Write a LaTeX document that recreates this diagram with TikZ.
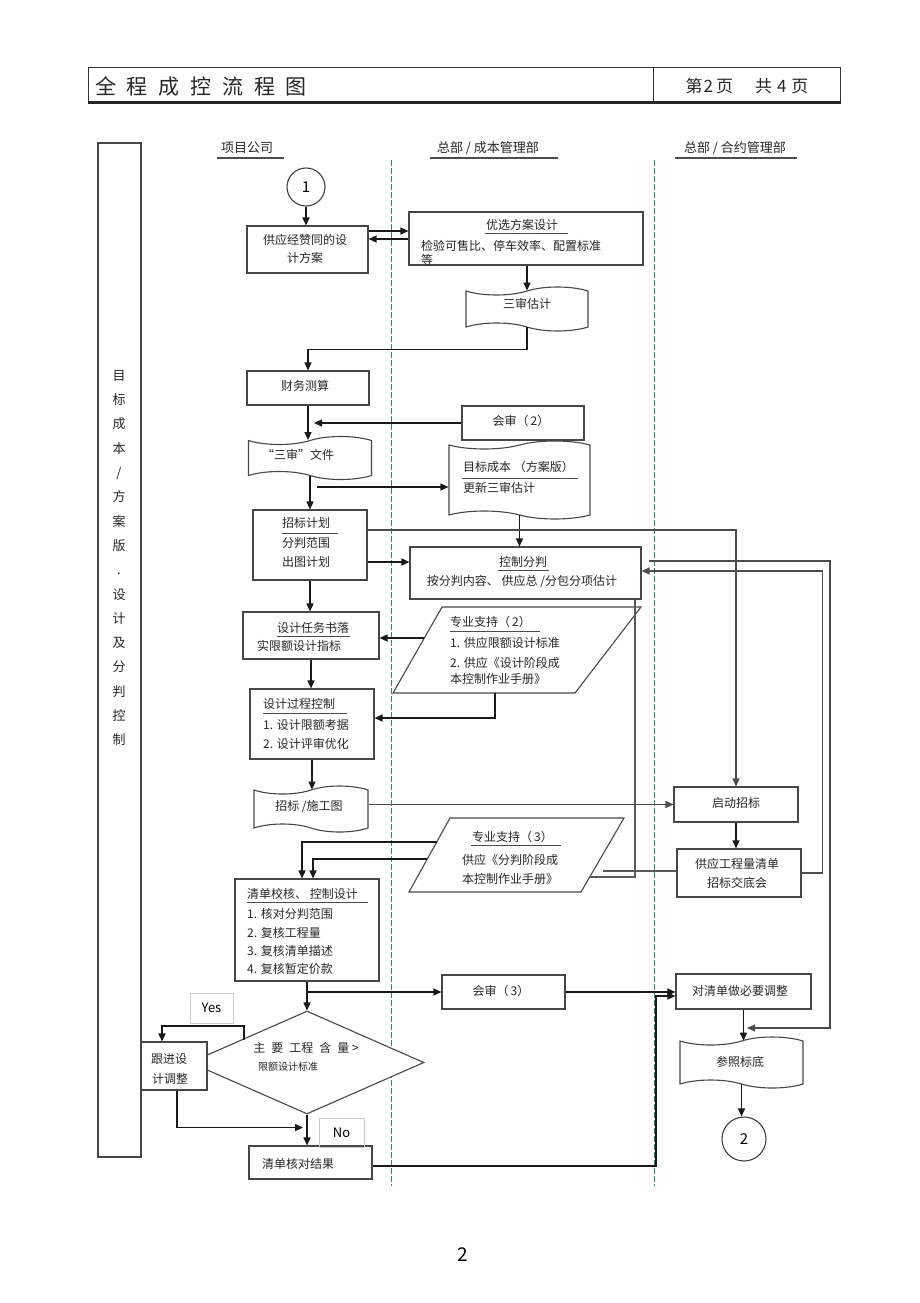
\documentclass[tikz,border=0pt]{standalone}
\usepackage{fontspec}
\setmainfont{Noto Sans CJK SC}
\usetikzlibrary{arrows.meta,shapes.symbols,shapes.geometric,calc}
\begin{document}
\begin{tikzpicture}[x=1pt,y=-1pt,
  box/.style={draw=black!72,line width=1.1pt,fill=white,inner sep=0pt},
  tp/.style={tape,draw=black!72,line width=1.1pt,fill=white,inner sep=0pt,tape bend top=in and out,tape bend bottom=out and in,tape bend height=8pt},
  t/.style={font=\fontsize{12}{18}\selectfont,text=black!85,inner sep=0pt},
  tw/.style={t,anchor=west},
  ul/.style={draw=black!70,line width=1pt},
  arr/.style={draw=black!90,line width=1.5pt,-{Triangle[length=8pt,width=7pt]}},
  garr/.style={draw=black!70,line width=1.2pt,-{Triangle[length=8pt,width=7pt]}},
  gln/.style={draw=black!65,line width=1.1pt},
  lane/.style={draw={rgb,255:red,40;green,140;blue,125},line width=0.9pt,dash pattern=on 6pt off 2pt},
  lbl/.style={draw=black!20,line width=0.6pt,inner sep=0pt,font=\fontsize{13}{15}\selectfont}
]
\useasboundingbox (0,0) rectangle (920,1303);
\fill[white] (0,0) rectangle (920,1303);

% header
\node[draw=black!80,line width=1pt,minimum width=752,minimum height=34,inner sep=0pt] (hdr) at (464,85) {};
\draw[black!85,line width=2.6pt] (hdr.south west) -- (hdr.south east);
\draw[black!80,line width=1pt] (653,68) -- (653,102);
\node[anchor=west,inner sep=0pt,font=\fontsize{21}{24}\selectfont,text=black!85] (title) at (95,86)
  {全\hspace{10.8pt}程\hspace{10.8pt}成\hspace{10.8pt}控\hspace{10.8pt}流\hspace{10.8pt}程\hspace{10.8pt}图};
\node[inner sep=0pt,font=\fontsize{17}{20}\selectfont,text=black!85] (pg) at (747,86)
  {第\hspace{1pt}2\hspace{3pt}页\hspace{22pt}共\hspace{5pt}4\hspace{5pt}页};

% side box
\node[box,minimum width=43,minimum height=1014] (side) at (119.5,650) {};
\node[inner sep=0pt,align=center,font=\fontsize{13}{24.3}\selectfont,text=black!85] (sidet) at (119,558)
  {目\\标\\成\\本\\/\\方\\案\\版\\.\\设\\计\\及\\分\\判\\控\\制};

% column headers
\node[inner sep=0pt,font=\fontsize{13}{15}\selectfont,text=black!85] (h1) at (247,148) {项目公司};
\draw[draw=black!70,line width=1.6pt] (217,158) -- (284,158);
\node[inner sep=0pt,font=\fontsize{13}{15}\selectfont,text=black!85] (h2) at (488,148) {总部 / 成本管理部};
\draw[draw=black!70,line width=1.6pt] (430,158) -- (558,158);
\node[inner sep=0pt,font=\fontsize{13}{15}\selectfont,text=black!85] (h3) at (735,148) {总部 / 合约管理部};
\draw[draw=black!70,line width=1.6pt] (675,158) -- (797,158);

% lanes
\draw[lane] (391,160) -- (391,1186);
\draw[lane] (654,160) -- (654,1186);

% circle 1 and first row
\node[circle,draw=black!75,line width=1.1pt,minimum size=38,inner sep=0pt,font=\fontsize{15}{17}\selectfont] (c1) at (306,187) {1};
\node[box,minimum width=121,minimum height=47] (b1) at (307.5,249.5) {};
\node[t,align=center] (b1t) at (305,249) {供应经赞同的设\\计方案};
\node[box,minimum width=234,minimum height=53] (b2) at (526,238.5) {};
\node[t] (b2h) at (522,225) {优选方案设计};
\draw[ul] (485,233) -- (568,233);
\node[tw] (b2a) at (421,246) {检验可售比、停车效率、配置标准};
\node[tw] (b2b) at (421,260) {等};
\draw[arr] (c1.south) -- (c1.south |- b1.north);
\draw[arr] (b1.east |- 0,231) -- (b2.west |- 0,231);
\draw[arr] (b2.west |- 0,239) -- (b1.east |- 0,239);

% tape 1
\node[tp,minimum width=122,minimum height=44] (tp1) at (527,309) {};
\node[t] (tp1t) at (527,304) {三审估计};
\draw[arr] (tp1.north |- b2.south) -- (tp1.north);

% finance
\node[box,minimum width=122,minimum height=34] (b3) at (308,388) {};
\node[t] (b3t) at (305,386) {财务测算};
\draw[arr] (tp1.south) -- ++(0,22) -| (b3.north);

% target cost tape (drawn before the review box so the box stays on top)
\node[tp,minimum width=141,minimum height=78] (tp3) at (519.5,480) {};
\node[tw] (tp3a) at (463,467) {目标成本 （方案版）};
\draw[ul] (462,478) -- (578,478);
\node[tw] (tp3b) at (463,488) {更新三审估计};

\node[box,minimum width=122,minimum height=34] (b4) at (523,423) {};
\node[t] (b4t) at (521,421) {会审（\,2）};

\node[tp,minimum width=123,minimum height=43] (tp2) at (310,458) {};
\node[t] (tp2t) at (298,455) {“三审”文件};
\draw[arr] (b3.south) -- (b3.south |- tp2.north);
\draw[arr] (b4.west) -- ($(b3.south |- b4.west)+(6,0)$);
\coordinate (j1) at (317,487);
\draw[arr] (j1) -- (j1 -| tp3.west);

% bidding plan
\node[box,minimum width=114,minimum height=70] (b5) at (310,545) {};
\node[tw] (b5a) at (282,523) {招标计划};
\draw[ul] (282,533) -- (338,533);
\node[tw] (b5b) at (282,543) {分判范围};
\node[tw] (b5c) at (282,562) {出图计划};
\draw[arr] (tp2.south) -- (tp2.south |- b5.north);

% control subcontract
\node[box,minimum width=231,minimum height=52] (b6) at (525.5,573) {};
\node[t] (b6a) at (523,562) {控制分判};
\draw[ul] (498,570) -- (549,570);
\node[t] (b6b) at (522,581) {按分判内容、 供应总 /分包分项估计};
\draw[arr] (tp3.south) -- (tp3.south |- b6.north);
\draw[arr] (b5.east |- 0,562) -- (b6.west |- 0,562);

% design task
\node[box,minimum width=136,minimum height=47] (b7) at (311,635.5) {};
\node[tw] (b7a) at (277,628) {设计任务书落};
\draw[ul] (277,636) -- (350,636);
\node[tw] (b7b) at (257,646) {实限额设计指标};
\draw[arr] (b5.south) -- (b5.south |- b7.north);

% support 2
\draw[box] (442,607) -- (641,607) -- (575,693) -- (393,693) -- cycle;
\node[tw] (p1a) at (450,622) {专业支持（\,2）};
\draw[ul] (450,631) -- (540,631);
\node[tw] (p1b) at (450,643) {1. 供应限额设计标准};
\node[tw] (p1c) at (450,663) {2. 供应《设计阶段成};
\node[tw] (p1d) at (450,679) {本控制作业手册》};
\coordinate (p1w) at (424,638);
\coordinate (p1s) at (495,693);

% design process
\node[box,minimum width=124,minimum height=70] (b8) at (312,724) {};
\node[tw] (b8a) at (263,704) {设计过程控制};
\draw[ul] (263,713) -- (347,713);
\node[tw] (b8b) at (263,725) {1. 设计限额考据};
\node[tw] (b8c) at (263,744) {2. 设计评审优化};
\draw[arr] (b7.south) -- (b7.south |- b8.north);
\draw[arr] (p1w) -- (b7.east |- p1w);
\draw[arr] (p1s) |- ($(b8.east)+(0,-6)$);

% drawings tape
\node[tp,minimum width=114,minimum height=46] (tp4) at (311,809) {};
\node[t] (tp4t) at (309,807) {招标 /施工图};
\draw[arr] (b8.south) -- (b8.south |- tp4.north);

% start bidding
\node[box,minimum width=124,minimum height=35] (b9) at (736,804.5) {};
\node[t] (b9t) at (736,803) {启动招标};
\draw[garr] (tp4.east |- b9.west) -- (b9.west);
\draw[garr] (b5.east |- 0,530) -| (b9.north);

\node[box,minimum width=124,minimum height=48] (b10) at (739,873) {};
\node[t,align=center,font=\fontsize{12}{19}\selectfont] (b10t) at (737,873) {供应工程量清单\\招标交底会};
\draw[arr] (b9.south) -- (b9.south |- b10.north);

% support 3
\draw[box] (450,818) -- (624,818) -- (581,892) -- (409,892) -- cycle;
\node[tw] (p2a) at (472,837) {专业支持（\,3）};
\draw[ul] (471,845) -- (561,845);
\node[tw] (p2b) at (462,860) {供应《分判阶段成};
\node[tw] (p2c) at (462,879) {本控制作业手册》};
\coordinate (p2e) at (603,871);
\coordinate (p2r) at (590,877);
\coordinate (p2w1) at (437,842);
\coordinate (p2w2) at (427,859);
\draw[gln] (p2e) -- (b10.west |- p2e);
\draw[gln] (b6.south -| 635,0) -- (635,877) -- (p2r);

% loops on the right
\draw[garr] (b10.east) -- ++(21,0) |- (b6.east |- 0,571);
\coordinate (o1) at (649,561);
\coordinate (o2) at (747,1028);
\draw[garr] (o1) -- (830,561) |- (o2);

% checking list
\node[box,minimum width=144,minimum height=102] (b11) at (307,930) {};
\node[tw] (b11a) at (247,894) {清单校核、 控制设计};
\draw[ul] (247,902) -- (368,902);
\node[tw] (b11b) at (247,914) {1. 核对分判范围};
\node[tw] (b11c) at (247,933) {2. 复核工程量};
\node[tw] (b11d) at (247,951) {3. 复核清单描述};
\node[tw] (b11e) at (247,969) {4. 复核暂定价款};
\draw[arr] (p2w1) -| ($(b11.north)+(-5,0)$);
\draw[arr] (p2w2) -| ($(b11.north)+(6,0)$);

% diamond
\node[diamond,draw=black!72,line width=1.1pt,fill=white,inner sep=0pt,minimum width=234,minimum height=103] (dia) at (307,1062.5) {};
\node[inner sep=0pt,font=\fontsize{12}{14}\selectfont,text=black!85] (dt1) at (306,1048) {主\hspace{6pt}要\hspace{6pt}工程\hspace{6pt}含\hspace{6pt}量 >};
\node[inner sep=0pt,font=\fontsize{10}{12}\selectfont,text=black!85] (dt2) at (288,1067) {限额设计标准};
\draw[arr] (b11.south) -- (dia.north);

% review 3 and adjust
\node[box,minimum width=123,minimum height=34] (b12) at (503.5,992) {};
\node[t] (b12t) at (501,991) {会审（\,3）};
\node[box,minimum width=135,minimum height=35] (b13) at (743.5,991.5) {};
\node[t] (b13t) at (740,991) {对清单做必要调整};
\draw[arr] (b11.south |- b12.west) -- (b12.west);
\draw[arr] (b12.east) -- (b13.west |- b12.east);

\node[tp,minimum width=123,minimum height=51] (tp5) at (741.5,1062.5) {};
\node[t] (tp5t) at (740,1062) {参照标底};
\draw[arr] (b13.south) -- (b13.south |- tp5.north);
\node[circle,draw=black!75,line width=1.1pt,minimum size=44,inner sep=0pt,font=\fontsize{15}{17}\selectfont] (c2) at (744,1139) {2};
\draw[arr] (tp5.south) -- (tp5.south |- c2.north);

% follow-up box
\node[box,minimum width=66,minimum height=48] (b14) at (174,1066) {};
\node[tw] (b14a) at (151,1059) {跟进设};
\node[tw] (b14b) at (152,1079) {计调整};
\node[lbl,minimum width=43,minimum height=30] (yes) at (211.5,1008) {Yes};
\coordinate (ys) at (244,1040);
\draw[arr] (ys) -- ++(0,-14) -| ($(b14.north)+(-12,0)$);

% result
\node[box,minimum width=123,minimum height=33] (b15) at (310.5,1162.5) {};
\node[tw] (b15t) at (262,1164) {清单核对结果};
\node[lbl,minimum width=45,minimum height=29] (no) at (341.5,1132.5) {No};
\draw[arr] (dia.south) -- (dia.south |- b15.north);
\draw[arr] ($(b14.south)+(3,0)$) |- ($(dia.south)+(-4,13)$);
\draw[arr] (b15.east |- 0,1166) -- (656,1166) |- ($(b13.west)+(0,4.5)$);

% page number
\node[inner sep=0pt,font=\fontsize{19}{21}\selectfont] (pnum) at (463,1255) {2};
\end{tikzpicture}
\end{document}
